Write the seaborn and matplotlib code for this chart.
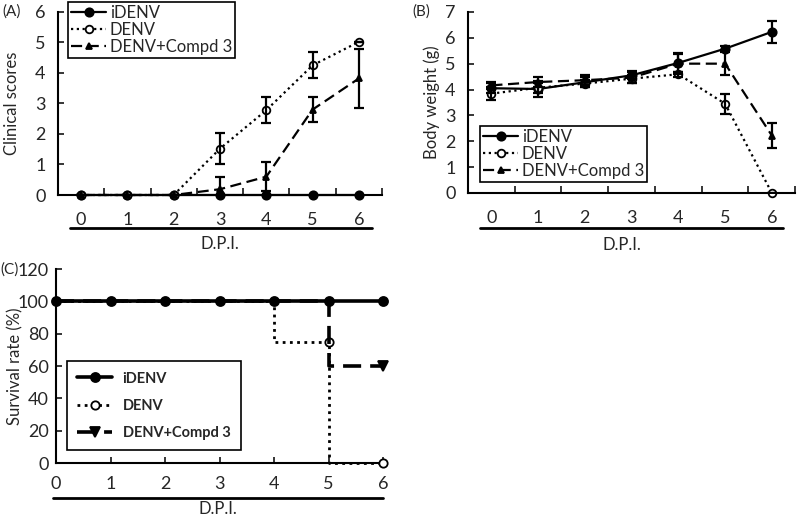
#!/usr/bin/env python
"""
plot.py - clinical scores, body weight and survival after DENV challenge
usage: python plot.py
"""
import matplotlib
matplotlib.use("Agg")
import numpy as np
import matplotlib.pyplot as plt
import seaborn as sns

days = [0, 1, 2, 3, 4, 5, 6]
groups = ["iDENV", "DENV", "DENV+Compd 3"]

# (A) clinical scores
score_idenv = [0, 0, 0, 0, 0, 0, 0]
score_denv = [0, 0, 0, 1.52, 2.78, 4.25, 5.02]
score_denv_err = [0, 0, 0, 0.5, 0.43, 0.43, 0]
score_cmpd = [0, 0, 0, 0.19, 0.6, 2.8, 3.82]
score_cmpd_err = [0, 0, 0, 0.41, 0.47, 0.4, 0.98]

# (B) body weight (g)
weight_idenv = [4.05, 4.02, 4.28, 4.55, 5.03, 5.58, 6.23]
weight_idenv_err = [0.2, 0.3, 0.2, 0.15, 0.35, 0.1, 0.42]
weight_denv = [3.84, 4.07, 4.23, 4.42, 4.59, 3.45, 0.0]
weight_denv_err = [0.25, 0.2, 0.15, 0.15, 0.1, 0.38, 0]
weight_cmpd = [4.16, 4.29, 4.36, 4.46, 5.0, 5.0, 2.22]
weight_cmpd_err = [0.15, 0.2, 0.2, 0.2, 0.4, 0.45, 0.5]

# (C) survival rate (%)
surv_idenv = [100, 100, 100, 100, 100, 100, 100]
surv_denv = [100, 100, 100, 100, 100, 75, 0]
surv_cmpd = [100, 100, 100, 100, 100, 100, 60]

sns.set_style("ticks")
plt.rcParams["font.family"] = ["Lato", "DejaVu Sans"]
plt.rcParams["font.size"] = 12

K = "black"
styles = {
    "iDENV": dict(linestyle="-", marker="o", markerfacecolor=K),
    "DENV": dict(linestyle=(0, (1, 1.6)), marker="o", markerfacecolor="white"),
    "DENV+Compd 3": dict(linestyle=(0, (5, 2.5)), marker="^", markerfacecolor=K),
}


def draw(ax, y, name, err=None, lw=1.6, ms=6, **extra):
    st = dict(styles[name])
    st.update(extra)
    sns.lineplot(x=days, y=y, ax=ax, color=K, lw=lw, markersize=ms,
                 markeredgecolor=K, markeredgewidth=1.3, label=name,
                 errorbar=None, clip_on=False, zorder=3, **st)
    if err is not None:
        ax.errorbar(days, y, yerr=err, fmt="none", ecolor=K, elinewidth=1.6,
                    capsize=3.5, capthick=1.6, zorder=4)


def style_axes(ax, ylabel, panel, label_x):
    sns.despine(ax=ax)
    for s in ax.spines.values():
        s.set_linewidth(1.5)
        s.set_color(K)
    ax.set_ylabel(ylabel, fontsize=12)
    ax.yaxis.set_label_coords(label_x, 0.5)
    ax.set_xlabel("")
    ax.tick_params(axis="y", direction="in", length=4, width=1.3, pad=9,
                   labelsize=13)
    ax.text(-0.115, 1.0, panel, transform=ax.transAxes, ha="right",
            va="center", fontsize=11)


def dpi_bar(ax, y_line, y_text, x0, x1, xt):
    ax.plot([x0, x1], [y_line, y_line], color=K, lw=2, transform=ax.transAxes,
            clip_on=False)
    ax.text(xt, y_text, "D.P.I.", transform=ax.transAxes, ha="center",
            va="center", fontsize=12)


def category_x(ax):
    ax.set_xlim(-0.5, 6.5)
    ax.set_xticks(days)
    ax.set_xticks(np.arange(-0.5, 7, 1), minor=True)
    ax.tick_params(axis="x", which="major", length=0, pad=12, labelsize=13)
    ax.tick_params(axis="x", which="minor", direction="in", length=5, width=1.3)


def legend(ax, **kw):
    opts = dict(handlelength=2.1, handletextpad=0.2, borderaxespad=0,
                fancybox=False, framealpha=1, edgecolor=K, fontsize=12,
                borderpad=0.2, labelspacing=0.05)
    opts.update(kw)
    leg = ax.legend(**opts)
    leg.get_frame().set_linewidth(1.2)
    return leg


fig = plt.figure(figsize=(8, 5.2), dpi=100)

# (A)
ax = fig.add_axes([0.0725, 0.625, 0.405, 0.352])
draw(ax, score_idenv, "iDENV")
draw(ax, score_denv, "DENV", score_denv_err, ms=5.5)
draw(ax, score_cmpd, "DENV+Compd 3", score_cmpd_err, ms=5)
ax.set_ylim(0, 6)
ax.set_yticks(range(0, 7))
category_x(ax)
style_axes(ax, "Clinical scores", "(A)", -0.117)
legend(ax, loc="upper left", bbox_to_anchor=(0.031, 1.055))
dpi_bar(ax, -0.18, -0.27, 0.037, 0.969, 0.5)

# (B)
ax = fig.add_axes([0.585, 0.629, 0.409, 0.348])
draw(ax, weight_idenv, "iDENV", weight_idenv_err)
draw(ax, weight_denv, "DENV", weight_denv_err, ms=5.5)
draw(ax, weight_cmpd, "DENV+Compd 3", weight_cmpd_err, ms=5)
ax.set_ylim(0, 7)
ax.set_yticks(range(0, 8))
category_x(ax)
style_axes(ax, "Body weight (g)", "(B)", -0.086)
legend(ax, loc="lower left", bbox_to_anchor=(0.037, 0.06))
dpi_bar(ax, -0.193, -0.29, 0.037, 0.963, 0.47)

# (C)
ax = fig.add_axes([0.07, 0.1096, 0.409, 0.373])
draw(ax, surv_idenv, "iDENV", lw=2.6, ms=6.5, drawstyle="steps-pre")
draw(ax, surv_denv, "DENV", lw=2, ms=6, drawstyle="steps-pre",
     markevery=[5, 6])
draw(ax, surv_cmpd, "DENV+Compd 3", lw=2.6, ms=6.5, drawstyle="steps-pre",
     marker="v", markevery=[6])
ax.set_ylim(0, 120)
ax.set_yticks(range(0, 121, 20))
ax.set_xlim(0, 6)
ax.set_xticks(days)
style_axes(ax, "Survival rate (%)", "(C)", -0.10)
ax.tick_params(axis="y", pad=5)
ax.tick_params(axis="x", direction="in", length=4, width=1.3, pad=9,
               labelsize=13)
leg = legend(ax, loc="lower left", bbox_to_anchor=(0.034, 0.067),
             fontsize=10.5, labelspacing=0.9, handlelength=2.4,
             handletextpad=0.7, borderpad=0.7)
for t in leg.get_texts():
    t.set_fontweight("bold")
dpi_bar(ax, -0.18, -0.235, -0.01, 1.0, 0.495)

fig.savefig("out.png", dpi=100)
